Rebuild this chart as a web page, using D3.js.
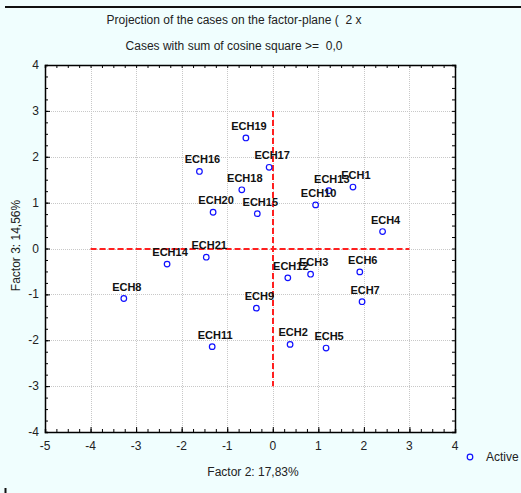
<!DOCTYPE html>
<html><head><meta charset="utf-8">
<script src="https://cdn.jsdelivr.net/npm/d3@7"></script>
<style>body{margin:0;background:#f0fefe;}svg{display:block;font-family:"Liberation Sans",Arial,sans-serif;}text{white-space:pre;}</style>
</head><body>
<script>
const caseLabels = ["ECH1","ECH2","ECH3","ECH4","ECH5","ECH6","ECH7","ECH8","ECH9","ECH10","ECH11","ECH12","ECH13","ECH14","ECH15","ECH16","ECH17","ECH18","ECH19","ECH20","ECH21"];
const factor2 = [1.76,0.38,0.83,2.41,1.17,1.91,1.96,-3.27,-0.36,0.94,-1.33,0.33,1.23,-2.32,-0.34,-1.61,-0.08,-0.68,-0.59,-1.31,-1.46];
const factor3 = [1.34,-2.09,-0.56,0.37,-2.17,-0.51,-1.16,-1.09,-1.30,0.95,-2.14,-0.64,1.26,-0.34,0.76,1.68,1.77,1.28,2.41,0.79,-0.19];
const xTicks = [-5,-4,-3,-2,-1,0,1,2,3,4];
const yTicks = [-4,-3,-2,-1,0,1,2,3,4];
const titleLines = ["Projection of the cases on the factor-plane (  2 x","Cases with sum of cosine square >=  0,0"];
const xTitle = "Factor 2: 17,83%";
const yTitle = "Factor 3: 14,56%";
const legendLabel = "Active";

const W=521,H=493;
const svg=d3.select("body").append("svg").attr("width",W).attr("height",H);
svg.append("rect").attr("width",W).attr("height",H).attr("fill","#f0fefe");
svg.append("line").attr("x1",5).attr("x2",W).attr("y1",7).attr("y2",7).attr("stroke","#111").attr("stroke-width",2);
svg.append("line").attr("x1",5.5).attr("x2",5.5).attr("y1",488).attr("y2",H).attr("stroke","#111").attr("stroke-width",2);

const L=45,R=455,T=65,B=432;
const x=d3.scaleLinear().domain([-5,4]).range([L,R]);
const y=d3.scaleLinear().domain([-4,4]).range([B,T]);

svg.append("rect").attr("x",L).attr("y",T).attr("width",R-L).attr("height",B-T).attr("fill","#fff");

const g=svg.append("g");
g.selectAll(".gx").data(xTicks.slice(1,-1)).join("line").attr("x1",d=>Math.round(x(d))+0.5).attr("x2",d=>Math.round(x(d))+0.5).attr("y1",T).attr("y2",B).attr("stroke","#c8c8c8").attr("stroke-dasharray","1,1");
g.selectAll(".gy").data(yTicks.slice(1,-1)).join("line").attr("y1",d=>Math.round(y(d))+0.5).attr("y2",d=>Math.round(y(d))+0.5).attr("x1",L).attr("x2",R).attr("stroke","#c8c8c8").attr("stroke-dasharray","1,1");

svg.append("line").attr("x1",x(-4)).attr("x2",x(3)).attr("y1",Math.round(y(0))).attr("y2",Math.round(y(0))).attr("stroke","#ff2020").attr("stroke-width",2).attr("stroke-dasharray","6,3");
svg.append("line").attr("y1",y(3)).attr("y2",y(-3)).attr("x1",Math.round(x(0))).attr("x2",Math.round(x(0))).attr("stroke","#ff2020").attr("stroke-width",2).attr("stroke-dasharray","6,3");

const minorX=d3.range(-5,4.001,0.25), minorY=d3.range(-4,4.001,0.25);
const axB=svg.append("g").attr("transform",`translate(0,${B})`).call(d3.axisTop(x).tickValues(minorX).tickSize(3).tickFormat(""));
const axT=svg.append("g").attr("transform",`translate(0,${T})`).call(d3.axisBottom(x).tickValues(minorX).tickSize(3).tickFormat(""));
const axL=svg.append("g").attr("transform",`translate(${L},0)`).call(d3.axisRight(y).tickValues(minorY).tickSize(3).tickFormat(""));
const axR=svg.append("g").attr("transform",`translate(${R},0)`).call(d3.axisLeft(y).tickValues(minorY).tickSize(3).tickFormat(""));
[axB,axT,axL,axR].forEach(a=>{a.select(".domain").attr("stroke","#000").attr("stroke-width",1.5);a.selectAll("line").attr("stroke","#000");});
svg.append("g").attr("transform",`translate(0,${B})`).call(d3.axisTop(x).tickValues(xTicks).tickSize(5).tickFormat("")).call(a=>a.select(".domain").remove());
svg.append("g").attr("transform",`translate(${L},0)`).call(d3.axisRight(y).tickValues(yTicks).tickSize(5).tickFormat("")).call(a=>a.select(".domain").remove());

svg.selectAll(".xl").data(xTicks).join("text").attr("x",d=>x(d)).attr("y",450).attr("text-anchor","middle").attr("font-size",12).attr("fill","#222").text(d=>d);
svg.selectAll(".yl").data(yTicks).join("text").attr("x",39).attr("y",d=>y(d)+4).attr("text-anchor","end").attr("font-size",12).attr("fill","#222").text(d=>d);

svg.selectAll(".tt").data(titleLines).join("text").attr("x",234).attr("y",(d,i)=>24+i*26).attr("text-anchor","middle").attr("font-size",12).attr("fill","#222").text(d=>d);
svg.append("text").attr("x",253).attr("y",476).attr("text-anchor","middle").attr("font-size",12).attr("fill","#222").text(xTitle);
svg.append("text").attr("transform",`translate(20,${y(0)-3}) rotate(-90)`).attr("text-anchor","middle").attr("font-size",12).attr("fill","#222").text(yTitle);

const data=caseLabels.map((c,i)=>({c,x:factor2[i],y:factor3[i]}));
svg.selectAll(".pt").data(data).join("circle").attr("cx",d=>x(d.x)).attr("cy",d=>y(d.y)).attr("r",2.8).attr("fill","none").attr("stroke","#1010ff").attr("stroke-width",1.2);
svg.selectAll(".lb").data(data).join("text").attr("x",d=>x(d.x)+3).attr("y",d=>y(d.y)-8).attr("text-anchor","middle").attr("font-size",11).attr("font-weight","bold").attr("fill","#111").text(d=>d.c);

svg.append("circle").attr("cx",470).attr("cy",457).attr("r",2.8).attr("fill","none").attr("stroke","#1010ff").attr("stroke-width",1.2);
svg.append("text").attr("x",486).attr("y",461).attr("font-size",12).attr("fill","#222").text(legendLabel);
</script>
</body></html>
